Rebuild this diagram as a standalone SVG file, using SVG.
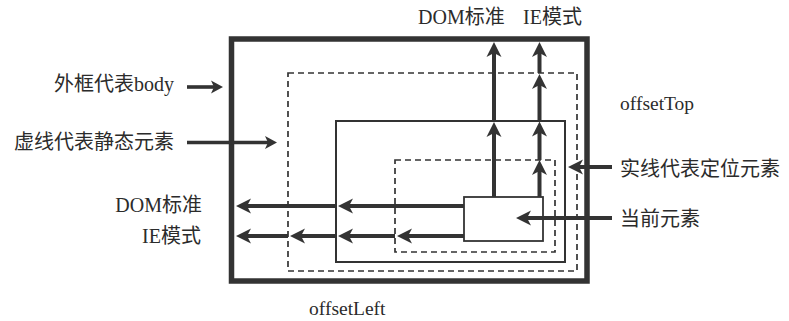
<svg xmlns="http://www.w3.org/2000/svg" width="789" height="321" viewBox="0 0 789 321">
<style>
text{font-family:"Liberation Serif","Noto Sans CJK SC",serif;font-size:20px;fill:#2b2b2b}
.box{fill:none;stroke:#333}
.outer{stroke-width:5.5}
.dash{stroke-width:1.7;stroke-dasharray:6 4}
.solid{stroke-width:2}
.cur{fill:#fff;stroke:#333;stroke-width:1.8}
.arr{stroke:#333;stroke-width:4;fill:none;marker-end:url(#ah)}
.sarr{stroke:#333;stroke-width:3.6;fill:none;marker-end:url(#sh)}
</style>
<defs>
<marker id="ah" viewBox="-6 -8 17 16" refX="0" refY="0" markerWidth="17" markerHeight="16" markerUnits="userSpaceOnUse" orient="auto">
<path d="M10,0 L-5,-7.5 L-1,0 L-5,7.5 Z" fill="#333"/>
</marker>
<marker id="sh" viewBox="-5 -7 14 14" refX="0" refY="0" markerWidth="14" markerHeight="14" markerUnits="userSpaceOnUse" orient="auto">
<path d="M8,0 L-4,-6.5 L-1,0 L-4,6.5 Z" fill="#333"/>
</marker>
</defs>
<g id="body"><rect class="box outer" x="231.5" y="39" width="355.5" height="242"/></g>
<g id="static-outer"><rect class="box dash" x="288" y="73" width="289" height="198"/></g>
<g id="positioned"><rect class="box solid" x="336" y="121" width="229" height="141"/></g>
<g id="static-inner"><rect class="box dash" x="395" y="160" width="160" height="92"/></g>
<g id="current"><rect class="cur" x="464" y="197" width="79" height="44"/></g>
<g id="connectors">
<line class="arr" x1="494" y1="197" x2="494" y2="132"/>
<line class="arr" x1="494" y1="120" x2="494" y2="52"/>
<line class="arr" x1="539.5" y1="197" x2="539.5" y2="170"/>
<line class="arr" x1="539.5" y1="160" x2="539.5" y2="131.5"/>
<line class="arr" x1="539.5" y1="121" x2="539.5" y2="84"/>
<line class="arr" x1="539.5" y1="73" x2="539.5" y2="52"/>
<line class="arr" x1="464" y1="206" x2="348" y2="206"/>
<line class="arr" x1="336" y1="206" x2="246" y2="206"/>
<line class="arr" x1="464" y1="236" x2="407" y2="236"/>
<line class="arr" x1="395" y1="236" x2="348" y2="236"/>
<line class="arr" x1="336" y1="236" x2="300" y2="236"/>
<line class="arr" x1="288" y1="236" x2="246" y2="236"/>
<line class="arr" x1="612" y1="167" x2="578" y2="167"/>
<line class="arr" x1="612" y1="218" x2="526" y2="218"/>
<line class="sarr" x1="187" y1="87" x2="215" y2="87"/>
<line class="sarr" x1="187" y1="142.5" x2="269" y2="142.5"/>
</g>
<g id="labels">
<text x="174" y="91" text-anchor="end">外框代表body</text>
<text x="174" y="149" text-anchor="end">虚线代表静态元素</text>
<text x="202" y="212" text-anchor="end">DOM标准</text>
<text x="201" y="243" text-anchor="end">IE模式</text>
<text x="418" y="24">DOM标准</text>
<text x="523" y="24">IE模式</text>
<text x="620" y="110" style="font-size:19.5px">offsetTop</text>
<text x="620" y="176">实线代表定位元素</text>
<text x="620" y="226">当前元素</text>
<text x="309" y="315" style="font-size:19.5px">offsetLeft</text>
</g>
</svg>
